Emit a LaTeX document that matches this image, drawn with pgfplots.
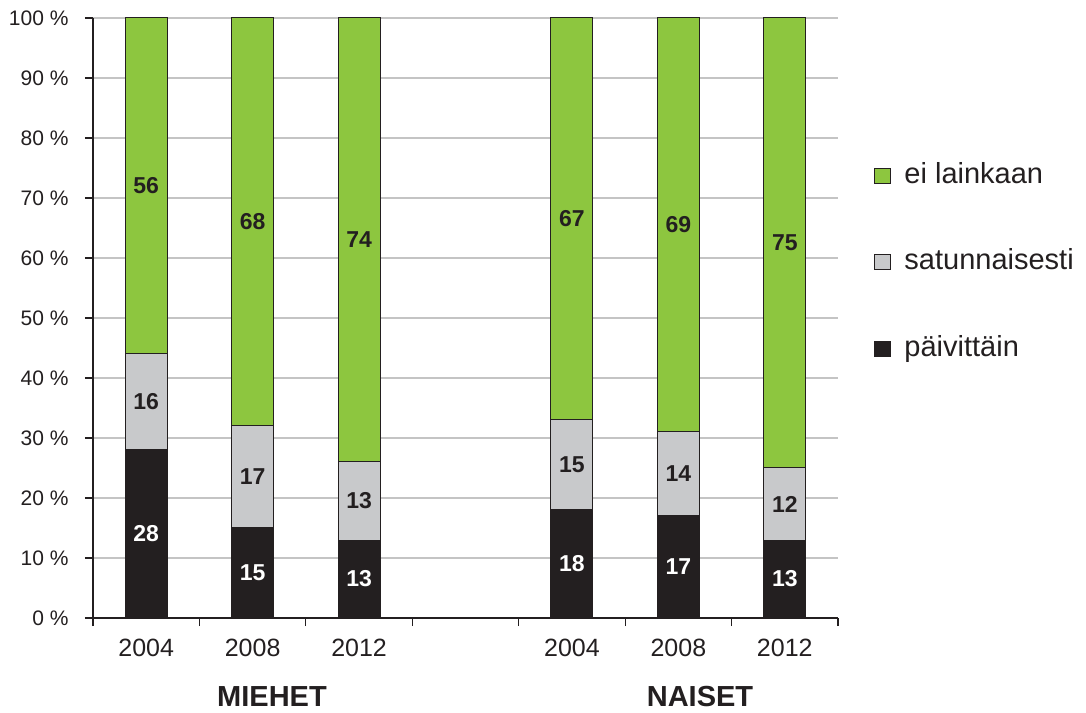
\documentclass[border=0pt]{standalone}
\usepackage{fontspec}
\setmainfont{Liberation Sans}
\usepackage{pgfplots}
\pgfplotsset{compat=1.18}
\usepackage{pgfplotstable}

\definecolor{cgreen}{HTML}{8DC63F}
\definecolor{cgray}{HTML}{C8C9CB}
\definecolor{cblack}{HTML}{231F20}
\definecolor{cgrid}{HTML}{C4C4C4}
\definecolor{ctext}{HTML}{231F20}

\pgfplotstableread{
x p s e
0 28 16 56
1 15 17 68
2 13 13 74
4 18 15 67
5 17 14 69
6 13 12 75
}\datatable

\pgfplotsset{
  sqlegend/.style={legend image code/.code={\draw[##1, draw=cblack, line width=1pt] (0pt,-10pt) rectangle (16pt,5pt); \path[draw=none, fill=none] (0pt,-2pt) rectangle (28pt,-3pt);}},
}

\begin{document}
\begin{tikzpicture}[x=1pt,y=1pt]
\begin{axis}[
  at={(93pt,94pt)}, anchor=south west,
  scale only axis, width=745pt, height=600pt,
  ybar stacked, bar width=42pt,
  xmin=-0.5, xmax=6.5, ymin=0, ymax=100,
  axis x line*=bottom, axis y line*=left,
  axis line style={ctext, line width=1.2pt},
  tick style={ctext, line width=1.2pt},
  tick align=outside, major tick length=8pt,
  ytick={0,10,...,100},
  /pgf/number format/assume math mode=true,
  yticklabel={\pgfmathprintnumber{\tick} \%},
  yticklabel style={font=\fontsize{21}{25}\selectfont, text=ctext, xshift=-13pt},
  ymajorgrids, major grid style={cgrid, line width=1.3pt},
  xtick={-0.5,0.5,1.5,2.5,3.5,4.5,5.5,6.5},
  xticklabels={,,,,,,,},
  xticklabel style={font=\fontsize{25}{30}\selectfont, text=ctext},
  extra x ticks={0,1,2,4,5,6},
  extra x tick labels={2004,2008,2012,2004,2008,2012},
  extra x tick style={major tick length=0pt, xticklabel style={yshift=-18pt}},
  reverse legend,
  legend cell align=left,
  legend style={at={(axis description cs:1.048,0.5967)}, anchor=west,
    draw=none, fill=none, inner sep=0pt, row sep=60pt,
    font=\fontsize{29}{35}\selectfont, text=ctext},
  nodes near coords,
  point meta=explicit,
  nodes near coords style={font=\fontsize{23}{27}\selectfont\bfseries, anchor=center},
]
\addplot[fill=cblack, draw=cblack, line width=1pt, sqlegend,
  nodes near coords style={text=white}]
  table[x=x, y=p, meta=p]{\datatable};
\addlegendentry{päivittäin}
\addplot[fill=cgray, draw=cblack, line width=1pt, sqlegend,
  nodes near coords style={text=ctext}]
  table[x=x, y=s, meta=s]{\datatable};
\addlegendentry{satunnaisesti}
\addplot[fill=cgreen, draw=cblack, line width=1pt, sqlegend,
  nodes near coords style={text=ctext}]
  table[x=x, y=e, meta=e]{\datatable};
\addlegendentry{ei lainkaan}
\end{axis}
\node[font=\fontsize{29}{35}\selectfont\bfseries, text=ctext] at (272,15) {MIEHET};
\node[font=\fontsize{29}{35}\selectfont\bfseries, text=ctext] at (700,15) {NAISET};
\path (0,0) rectangle (1086,712);
\end{tikzpicture}
\end{document}
